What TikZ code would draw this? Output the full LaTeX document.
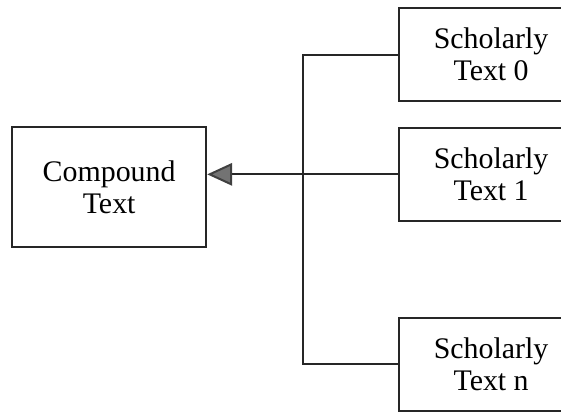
\documentclass[tikz,border=0pt]{standalone}
\usepackage{fontspec}
\setmainfont{Liberation Serif}
\usetikzlibrary{arrows.meta}

\begin{document}
\begin{tikzpicture}[
        box/.style={draw=black!85, line width=0.8pt, align=center,
            font=\fontsize{12}{12.8}\selectfont},
        scholarly/.style={box, minimum width=2.6cm, minimum height=1.31cm,
            execute at begin node={\rule{0pt}{15pt}}},
        link/.style={draw=black!85, line width=0.8pt}
    ]
        \useasboundingbox (0,0) rectangle (7.916,-5.842);
        \clip (0,0) rectangle (7.916,-5.842);

        \node[box, minimum width=2.74cm, minimum height=1.69cm] (cpd) at (1.54,-2.64) {Compound\\Text};

        \node[scholarly] (s0) at (6.93,-0.77) {Scholarly\\Text 0};
        \node[scholarly] (s1) at (6.93,-2.46) {Scholarly\\Text 1};
        \node[scholarly] (sn) at (6.93,-5.14) {Scholarly\\Text n};

        \coordinate (bus) at (4.27,0);

        \draw[link] (s0.west) -- (s0.west -| bus) -- (sn.west -| bus) -- (sn.west);
        \draw[link, -{Triangle[length=10pt, width=9pt, fill=black!55, color=black!75]}]
            (s1.west) -- (s1.west -| cpd.east);
    \end{tikzpicture}
\end{document}
